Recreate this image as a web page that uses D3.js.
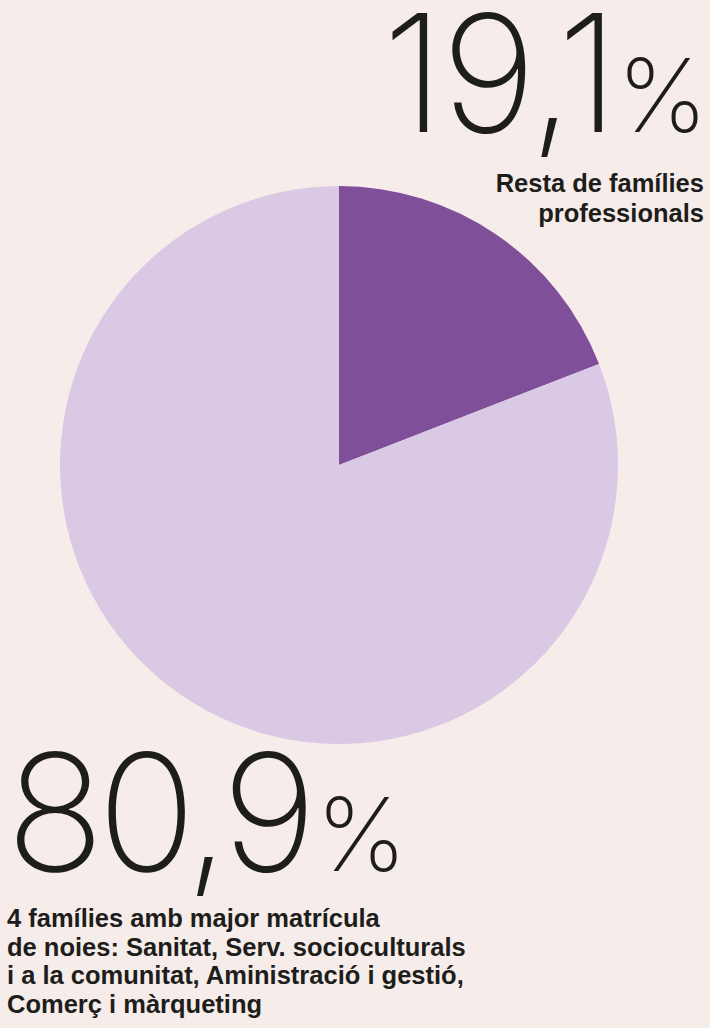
<!DOCTYPE html>
<html>
<head>
<meta charset="utf-8">
<script src="https://cdn.jsdelivr.net/npm/d3@7"></script>
<style>
  html, body { margin: 0; padding: 0; background: #f6ece9; }
  svg { display: block; }
  .big { font-family: "Inter", "Roboto", sans-serif; font-weight: 200; fill: #1d1d1b; }
  .lbl { font-family: "Liberation Sans", "Helvetica", sans-serif; font-weight: bold; fill: #1d1d1b; font-size: 25.5px; }
</style>
</head>
<body>
<div id="chart"></div>
<script>
const width = 710,
  height = 1028

// data
var categories = ["Resta de famílies professionals", "4 famílies amb major matrícula de noies"]
var values = [19.1, 80.9]
var valueLabels = ["19,1", "80,9"]
var color = ["#7f4f99", "#d9c9e4"]
var topLabel = ["Resta de famílies", "professionals"]
var bottomLabel = [
  "4 famílies amb major matrícula",
  "de noies: Sanitat, Serv. socioculturals",
  "i a la comunitat, Aministració i gestió,",
  "Comerç i màrqueting"
]

const svg = d3
  .select("#chart")
  .append("svg")
  .attr("width", width)
  .attr("height", height)

svg.append("rect").attr("width", width).attr("height", height).attr("fill", "#f6ece9")

// pie
const cx = 339, cy = 465, radius = 279

const pie = d3.pie().sort(null).value((d) => d)
const arc = d3.arc().innerRadius(0).outerRadius(radius)

svg
  .append("g")
  .attr("transform", `translate(${cx}, ${cy})`)
  .selectAll("path")
  .data(pie(values))
  .enter()
  .append("path")
  .attr("d", arc)
  .attr("fill", (d, i) => color[i])

// top number, right aligned
svg.append("text")
  .attr("class", "big")
  .attr("x", 616)
  .attr("y", 132)
  .attr("font-size", "163px")
  .attr("letter-spacing", "-3px")
  .style("text-anchor", "end")
  .text(valueLabels[0])
svg.append("text")
  .attr("class", "big")
  .attr("x", 708)
  .attr("y", 132)
  .attr("font-size", "102px")
  .style("text-anchor", "end")
  .text("%")

svg
  .selectAll(".toplbl")
  .data(topLabel)
  .enter()
  .append("text")
  .attr("class", "lbl toplbl")
  .attr("x", 704)
  .attr("y", (d, i) => 192 + i * 30)
  .style("text-anchor", "end")
  .text((d) => d)

// bottom number
svg.append("text")
  .attr("class", "big")
  .attr("x", 6)
  .attr("y", 871)
  .attr("font-size", "163px")
  .attr("letter-spacing", "-7px")
  .text(valueLabels[1])
svg.append("text")
  .attr("class", "big")
  .attr("x", 316)
  .attr("y", 871)
  .attr("font-size", "102px")
  .text("%")

svg
  .selectAll(".botlbl")
  .data(bottomLabel)
  .enter()
  .append("text")
  .attr("class", "lbl botlbl")
  .attr("x", 7)
  .attr("y", (d, i) => 927 + i * 28.5)
  .text((d) => d)
</script>
</body>
</html>
